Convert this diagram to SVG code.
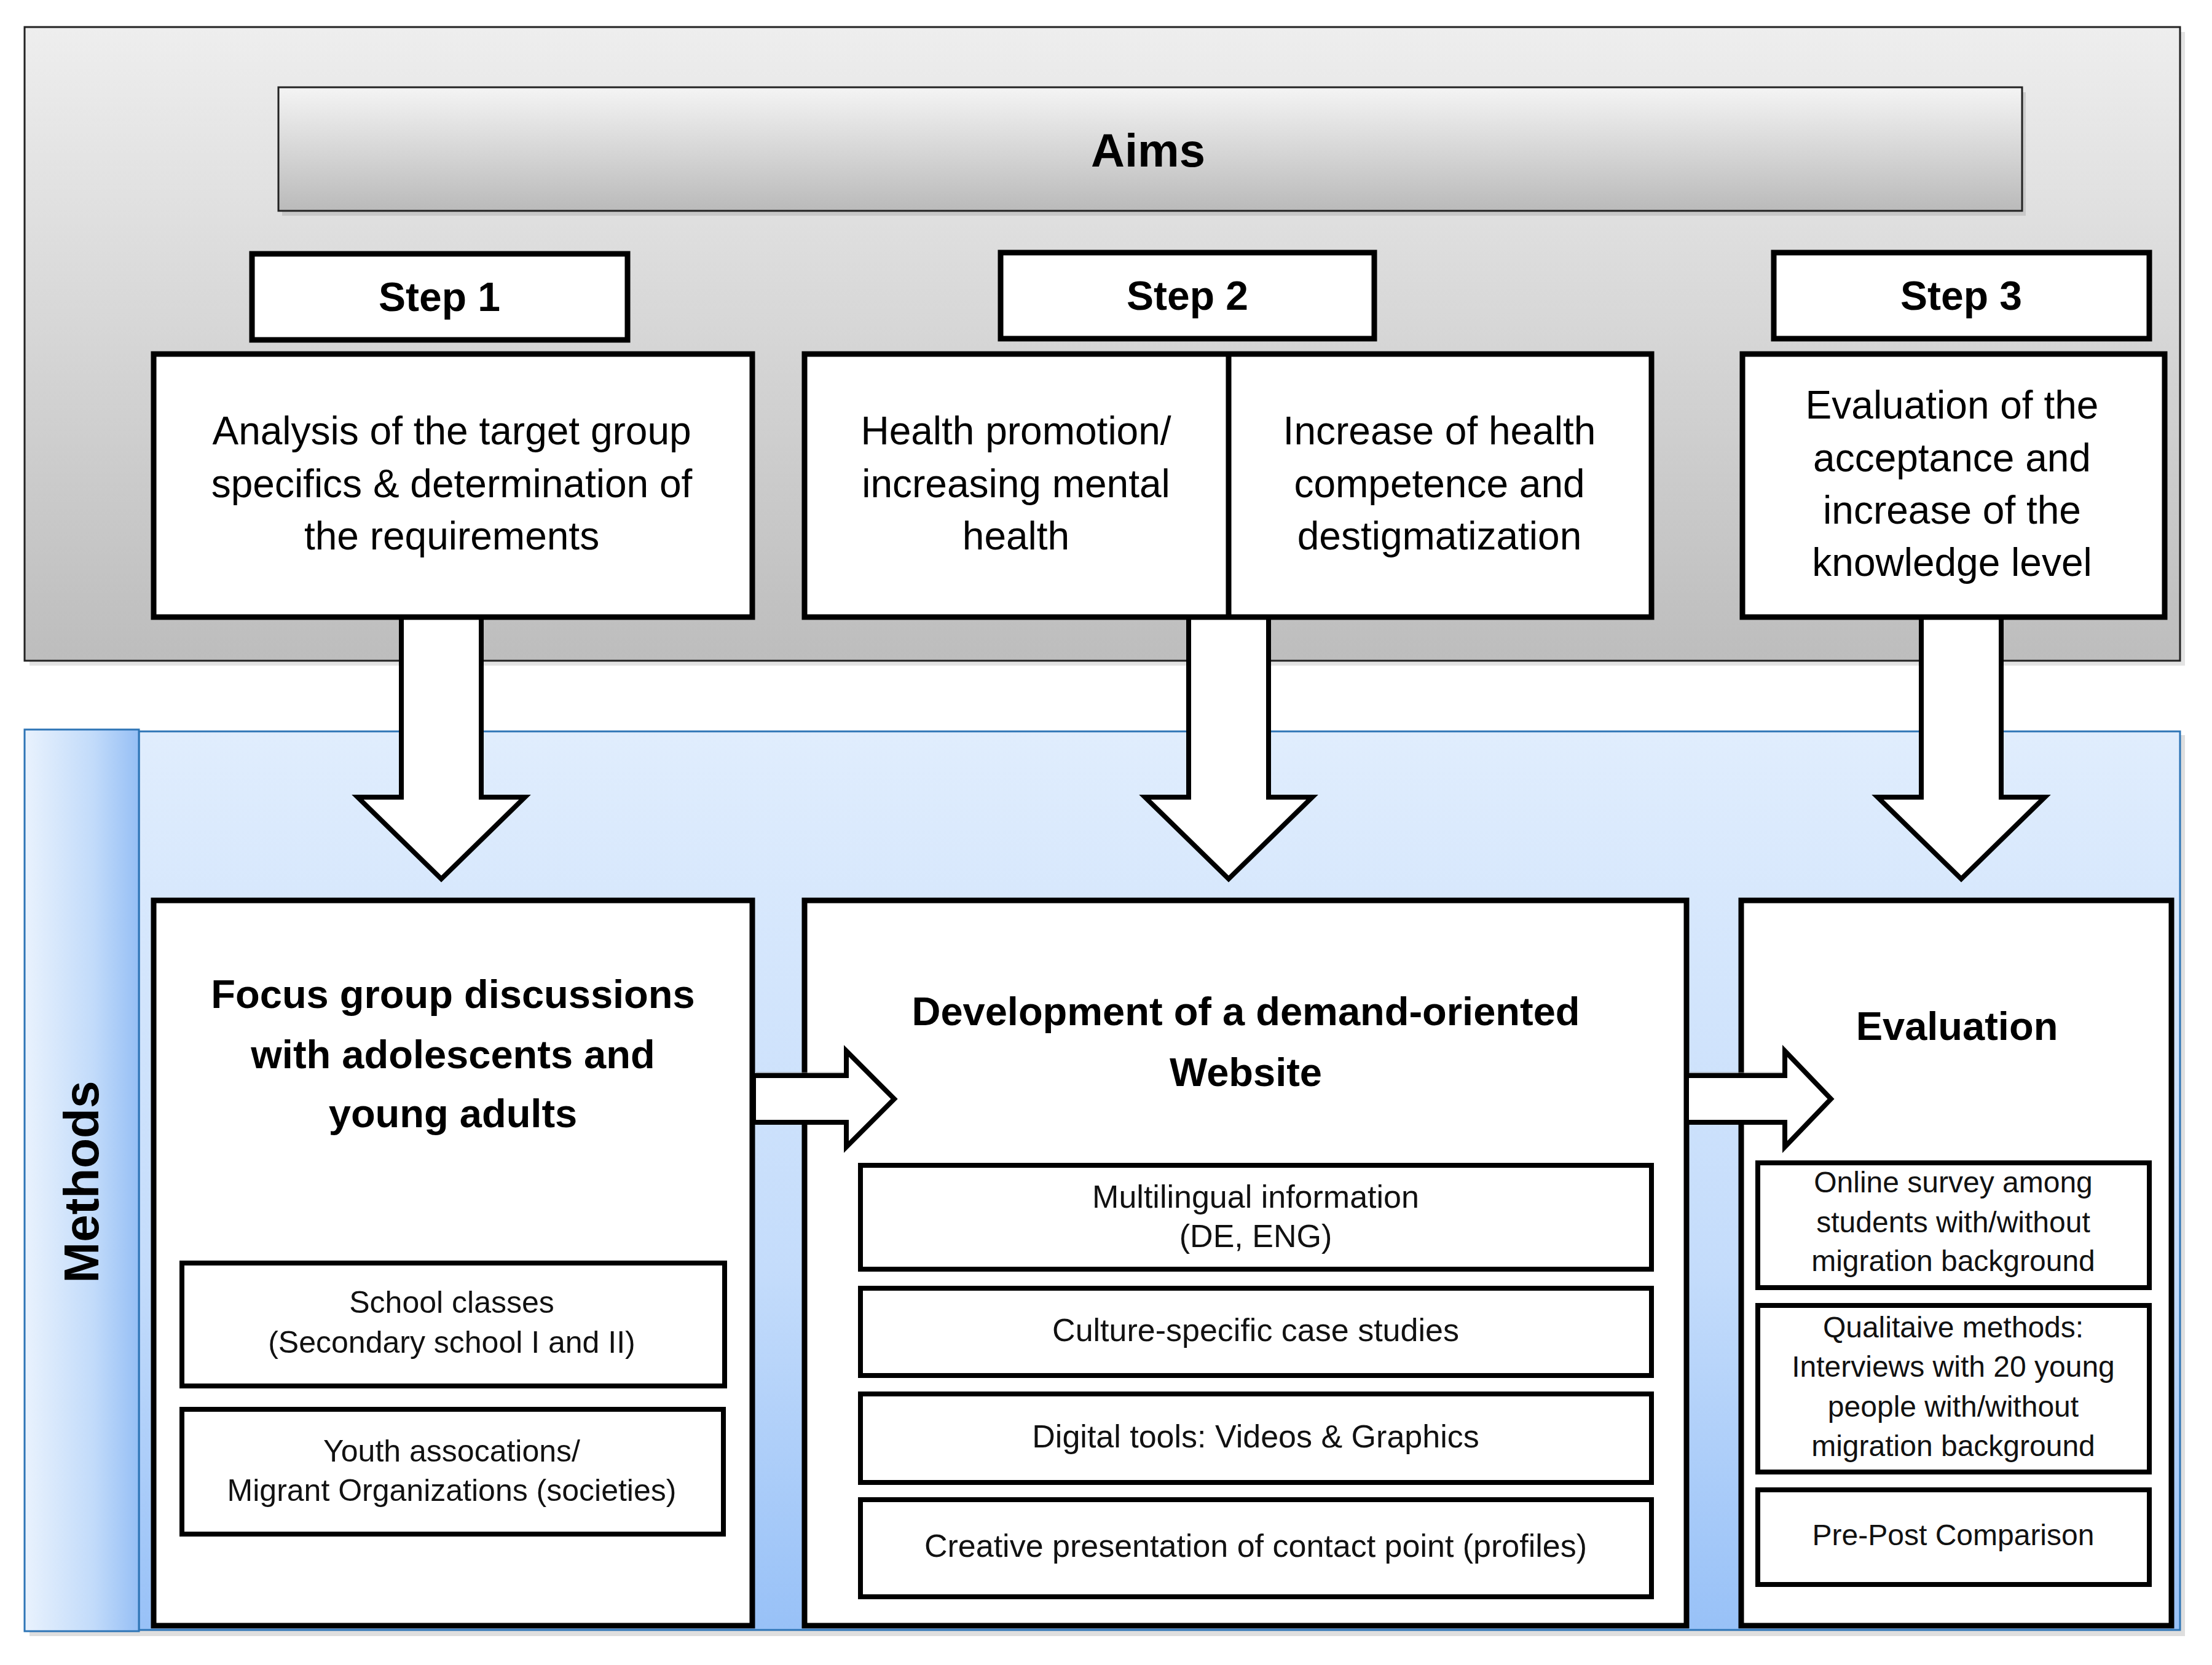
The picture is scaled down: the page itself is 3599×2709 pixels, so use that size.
<svg xmlns="http://www.w3.org/2000/svg" width="3599" height="2709" viewBox="0 0 3599 2709">
<defs>
<linearGradient id="gGrey" x1="0" y1="0" x2="0" y2="1"><stop offset="0" stop-color="#eeeeee"/><stop offset="1" stop-color="#bdbdbd"/></linearGradient>
<linearGradient id="gAims" x1="0" y1="0" x2="0" y2="1"><stop offset="0" stop-color="#f4f4f4"/><stop offset="1" stop-color="#bababa"/></linearGradient>
<linearGradient id="gBlue" x1="0" y1="0" x2="0" y2="1"><stop offset="0" stop-color="#e0edfd"/><stop offset="0.6" stop-color="#c4dcfb"/><stop offset="1" stop-color="#98c1f7"/></linearGradient>
<linearGradient id="gSide" x1="0" y1="0" x2="1" y2="0"><stop offset="0" stop-color="#e9f2fd"/><stop offset="0.6" stop-color="#c2dbfa"/><stop offset="1" stop-color="#96bff5"/></linearGradient>
<style>
.box{fill:#fff;stroke:#000;stroke-width:9}
.sub{fill:#fff;stroke:#000;stroke-width:8}
.arr{fill:#fff;stroke:#000;stroke-width:8;stroke-linejoin:miter}
.t{font-family:"Liberation Sans",Arial,sans-serif;fill:#000;text-anchor:middle}
.up{font-size:64px}
.step{font-size:66px;font-weight:bold}
.ttl{font-size:65px;font-weight:bold}
.sm{font-size:48px;fill:#111}
.sw{font-size:52px;fill:#111}
.sf{font-size:50px;fill:#111}
</style>
</defs>
<rect width="3599" height="2709" fill="#fff"/>
<!-- Aims panel -->
<g id="aims-panel">
<rect x="48" y="52" width="3507" height="1031" fill="#d0d0d0" opacity="0.6"/>
<rect x="40" y="44" width="3507" height="1031" fill="url(#gGrey)" stroke="#222" stroke-width="3"/>
</g>
<g id="aims">
<rect x="459" y="150" width="2837" height="201" fill="#9a9a9a" opacity="0.35"/>
<rect x="453" y="142" width="2837" height="201" fill="url(#gAims)" stroke="#222" stroke-width="3"/>
<text class="t" x="1868" y="271" font-size="76" font-weight="bold">Aims</text>
</g>
<!-- Methods panel -->
<g id="methods-panel">
<rect x="48" y="1196" width="3507" height="1466" fill="#c8c8c8" opacity="0.6"/>
<rect x="226" y="1190" width="3321" height="1462" fill="url(#gBlue)" stroke="#2e75b6" stroke-width="3"/>
<rect x="40" y="1187" width="186" height="1467" fill="url(#gSide)" stroke="#2e75b6" stroke-width="3"/>
<text class="t" transform="translate(160,1923) rotate(-90)" font-size="80" font-weight="bold" fill="#1b2640">Methods</text>
</g>
<!-- connectors -->
<g id="connectors">
<polygon class="arr" points="653,1000 783,1000 783,1297 854,1297 718,1430 582,1297 653,1297"/>
<polygon class="arr" points="1934,1000 2064,1000 2064,1297 2135,1297 1999,1430 1863,1297 1934,1297"/>
<polygon class="arr" points="3126,1000 3256,1000 3256,1297 3327,1297 3191,1430 3055,1297 3126,1297"/>
</g>
<!-- Step headers -->
<g id="step1"><rect class="box" x="410" y="413" width="611" height="140"/><text class="t step" x="715" y="506">Step 1</text></g>
<g id="step2"><rect class="box" x="1628" y="411" width="608" height="140"/><text class="t step" x="1932" y="504">Step 2</text></g>
<g id="step3"><rect class="box" x="2886" y="411" width="611" height="140"/><text class="t step" x="3191" y="504">Step 3</text></g>
<!-- Aim boxes -->
<g id="aim1"><rect class="box" x="250" y="576" width="974" height="428"/>
<text class="t up" x="735" y="723">Analysis of the target group</text>
<text class="t up" x="735" y="809">specifics &amp; determination of</text>
<text class="t up" x="735" y="894">the requirements</text></g>
<g id="aim2"><rect class="box" x="1309" y="576" width="1378" height="428"/>
<line x1="1999" y1="576" x2="1999" y2="1004" stroke="#000" stroke-width="9"/>
<text class="t up" x="1653" y="723">Health promotion/</text>
<text class="t up" x="1653" y="809">increasing mental</text>
<text class="t up" x="1653" y="894">health</text>
<text class="t up" x="2342" y="723">Increase of health</text>
<text class="t up" x="2342" y="809">competence and</text>
<text class="t up" x="2342" y="894">destigmatization</text></g>
<g id="aim3"><rect class="box" x="2835" y="576" width="687" height="428"/>
<text class="t up" x="3176" y="681">Evaluation of the</text>
<text class="t up" x="3176" y="767">acceptance and</text>
<text class="t up" x="3176" y="852">increase of the</text>
<text class="t up" x="3176" y="937">knowledge level</text></g>
<!-- Method boxes -->
<g id="focus"><rect class="box" x="250" y="1465" width="974" height="1180"/>
<text class="t ttl" x="737" y="1640">Focus group discussions</text>
<text class="t ttl" x="737" y="1738">with adolescents and</text>
<text class="t ttl" x="737" y="1834">young adults</text></g>
<g id="school"><rect class="sub" x="296" y="2055" width="883" height="200"/>
<text class="t sf" x="735" y="2136">School classes</text>
<text class="t sf" x="735" y="2201">(Secondary school  I and II)</text></g>
<g id="youth"><rect class="sub" x="296" y="2293" width="881" height="203"/>
<text class="t sf" x="735" y="2378">Youth assocations/</text>
<text class="t sf" x="735" y="2442">Migrant Organizations (societies)</text></g>
<g id="website"><rect class="box" x="1309" y="1465" width="1435" height="1180"/>
<text class="t ttl" x="2027" y="1668" font-size="69">Development of a demand-oriented</text>
<text class="t ttl" x="2027" y="1767" font-size="69">Website</text></g>
<g id="multi"><rect class="sub" x="1400" y="1896" width="1287" height="169"/>
<text class="t sw" x="2043" y="1965">Multilingual information</text>
<text class="t sw" x="2043" y="2029">(DE, ENG)</text></g>
<g id="culture"><rect class="sub" x="1400" y="2096" width="1287" height="142"/>
<text class="t sw" x="2043" y="2182">Culture-specific case studies</text></g>
<g id="digital"><rect class="sub" x="1400" y="2268" width="1287" height="144"/>
<text class="t sw" x="2043" y="2355">Digital tools: Videos &amp; Graphics</text></g>
<g id="creative"><rect class="sub" x="1400" y="2440" width="1287" height="158"/>
<text class="t sw" x="2043" y="2533">Creative presentation of contact point (profiles)</text></g>
<g id="evaluation"><rect class="box" x="2833" y="1465" width="700" height="1180"/>
<text class="t ttl" x="3184" y="1692" font-size="66">Evaluation</text></g>
<g id="online"><rect class="sub" x="2860" y="1892" width="637" height="203"/>
<text class="t sm" x="3178" y="1940">Online survey among</text>
<text class="t sm" x="3178" y="2005">students with/without</text>
<text class="t sm" x="3178" y="2068">migration background</text></g>
<g id="quali"><rect class="sub" x="2860" y="2124" width="637" height="271"/>
<text class="t sm" x="3178" y="2176">Qualitaive methods:</text>
<text class="t sm" x="3178" y="2240">Interviews with 20 young</text>
<text class="t sm" x="3178" y="2305">people with/without</text>
<text class="t sm" x="3178" y="2369">migration background</text></g>
<g id="prepost"><rect class="sub" x="2860" y="2424" width="637" height="154"/>
<text class="t sm" x="3178" y="2514">Pre-Post Comparison</text></g>
<!-- horizontal connectors -->
<g id="connectors-h">
<polygon points="1230,1744 1377,1744 1377,1704 1460,1788 1377,1860 1377,1820 1230,1820" fill="#7f7f7f" opacity="0.45"/>
<polygon class="arr" points="1226,1750 1377,1750 1377,1710 1455,1788 1377,1866 1377,1826 1226,1826"/>
<polygon points="2748,1744 2904,1744 2904,1704 2984,1788 2904,1860 2904,1820 2748,1820" fill="#7f7f7f" opacity="0.45"/>
<polygon class="arr" points="2744,1750 2904,1750 2904,1710 2979,1788 2904,1866 2904,1826 2744,1826"/>
</g>
</svg>
